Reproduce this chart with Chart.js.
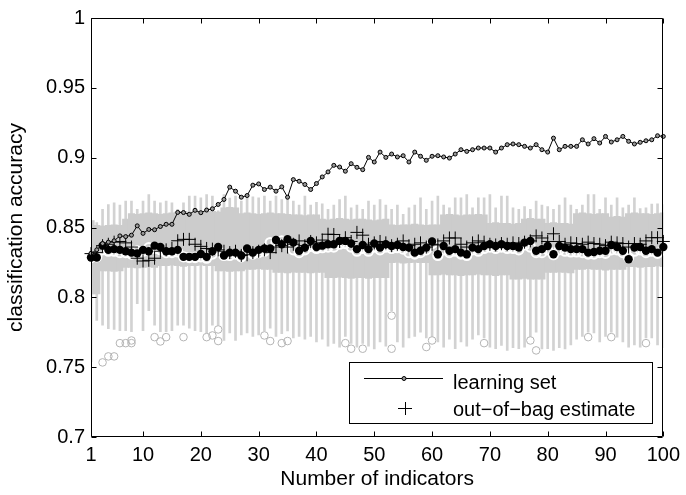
<!DOCTYPE html>
<html>
<head>
<meta charset="utf-8">
<script src="https://cdn.jsdelivr.net/npm/chart.js@4.4.1/dist/chart.umd.min.js"></script>
<style>
  html, body { margin: 0; padding: 0; background: #fff; }
  #wrap { width: 686px; height: 495px; position: relative; }
</style>
</head>
<body>
<div id="wrap"><canvas id="c"></canvas></div>
<script>
// ---------- data ----------
const indicators = Array.from({length: 100}, (_, k) => k + 1);

const learningSet = [0.8315,0.834,0.8385,0.8395,0.8405,0.844,0.8435,0.8445,0.8512,0.8458,
 0.8486,0.8484,0.8507,0.8523,0.8523,0.8608,0.8607,0.8594,0.8623,0.8606,
 0.8625,0.8634,0.8665,0.8701,0.8789,0.8760,0.8717,0.8729,0.8803,0.8812,
 0.8772,0.8789,0.8760,0.8791,0.8717,0.8843,0.8831,0.8808,0.8772,0.8815,
 0.8862,0.8898,0.8945,0.8933,0.8903,0.8957,0.8931,0.8914,0.9002,0.8969,
 0.9040,0.9002,0.9026,0.9005,0.9014,0.8969,0.9040,0.9010,0.8981,0.9010,
 0.9014,0.9005,0.8997,0.9026,0.9057,0.9045,0.9057,0.9069,0.9069,0.9069,
 0.9040,0.9069,0.9093,0.9098,0.9093,0.9081,0.9069,0.9093,0.9057,0.9040,
 0.9140,0.9057,0.9081,0.9081,0.9081,0.9128,0.9098,0.9136,0.9105,0.9152,
 0.9112,0.9128,0.9152,0.9117,0.9098,0.9110,0.9121,0.9128,0.9157,0.9152];

const outOfBag = [0.8313,0.832,0.837,0.838,0.8395,0.840,0.839,0.836,0.828,0.826,
 0.8265,0.828,0.833,0.834,0.835,0.8405,0.8415,0.8415,0.838,0.8365,
 0.835,0.8345,0.834,0.833,0.832,0.833,0.830,0.8305,0.832,0.833,
 0.834,0.832,0.836,0.837,0.836,0.838,0.8404,0.837,0.840,0.839,
 0.841,0.8452,0.845,0.840,0.8427,0.840,0.8465,0.8445,0.838,0.839,
 0.840,0.839,0.837,0.838,0.8404,0.837,0.838,0.839,0.836,0.838,
 0.8375,0.8404,0.8425,0.8425,0.838,0.836,0.839,0.8404,0.8395,0.838,
 0.8375,0.8385,0.838,0.839,0.8385,0.8395,0.8404,0.844,0.8425,0.840,
 0.8455,0.840,0.838,0.839,0.8385,0.838,0.8395,0.8385,0.838,0.837,
 0.8395,0.839,0.8385,0.836,0.8385,0.838,0.8404,0.8427,0.8427,0.840];

const testAccuracy = [0.8285,0.8285,0.837,0.834,0.8345,0.834,0.833,0.832,0.8315,0.834,
 0.833,0.837,0.836,0.833,0.833,0.834,0.829,0.829,0.829,0.831,
 0.829,0.833,0.836,0.830,0.832,0.832,0.830,0.835,0.832,0.834,
 0.835,0.835,0.841,0.838,0.8416,0.8392,0.8333,0.8356,0.8404,0.836,
 0.837,0.838,0.838,0.8404,0.8404,0.8385,0.8345,0.8375,0.8345,0.8385,
 0.8356,0.838,0.8368,0.8375,0.836,0.8356,0.832,0.8333,0.8356,0.840,
 0.8309,0.8368,0.8333,0.8345,0.832,0.8309,0.8356,0.8345,0.8368,0.838,
 0.8368,0.838,0.8368,0.8368,0.8356,0.8392,0.8404,0.8333,0.8345,0.8368,
 0.8309,0.8368,0.8356,0.8345,0.8345,0.8345,0.832,0.8325,0.8333,0.8333,
 0.8375,0.836,0.8333,0.8273,0.8356,0.836,0.8333,0.8345,0.832,0.836];

const boxMedian = [0.8285,0.829,0.834,0.833,0.833,0.832,0.832,0.831,0.8333,0.833,
 0.8356,0.835,0.834,0.832,0.832,0.8325,0.829,0.8285,0.8285,0.829,
 0.828,0.831,0.834,0.830,0.830,0.831,0.829,0.833,0.831,0.832,
 0.833,0.8392,0.8392,0.8404,0.8404,0.834,0.832,0.834,0.8365,0.835,
 0.8355,0.836,0.836,0.838,0.8385,0.836,0.833,0.835,0.833,0.836,
 0.834,0.836,0.835,0.8355,0.8345,0.832,0.831,0.832,0.834,0.8385,
 0.830,0.834,0.832,0.833,0.831,0.830,0.834,0.833,0.835,0.836,
 0.835,0.836,0.835,0.835,0.834,0.8375,0.836,0.832,0.832,0.834,
 0.8305,0.834,0.833,0.8325,0.8325,0.832,0.831,0.831,0.832,0.8315,
 0.834,0.834,0.832,0.8285,0.833,0.834,0.832,0.833,0.8315,0.834];

const boxQ3 = [0.855,0.8515,0.851,0.8515,0.852,0.8515,0.856,0.860,0.8595,0.860,
 0.8605,0.860,0.8595,0.860,0.8605,0.861,0.8615,0.861,0.861,0.8605,
 0.861,0.8615,0.861,0.864,0.8645,0.864,0.860,0.8605,0.860,0.8595,
 0.860,0.8605,0.860,0.860,0.8595,0.859,0.859,0.8585,0.859,0.859,
 0.856,0.8555,0.856,0.8565,0.856,0.8555,0.856,0.856,0.8555,0.855,
 0.8555,0.856,0.852,0.8515,0.852,0.852,0.8525,0.852,0.8515,0.852,
 0.852,0.859,0.8595,0.859,0.8585,0.859,0.859,0.8595,0.859,0.853,
 0.8535,0.853,0.853,0.8525,0.853,0.856,0.8565,0.856,0.856,0.853,
 0.8535,0.853,0.853,0.8525,0.860,0.8605,0.860,0.8595,0.860,0.860,
 0.8575,0.858,0.8575,0.860,0.8605,0.860,0.860,0.8595,0.860,0.8605];

const boxQ1 = [0.8025,0.8025,0.819,0.819,0.8185,0.819,0.8214,0.8214,0.821,0.8214,
 0.8218,0.8214,0.8226,0.8226,0.823,0.8226,0.8222,0.8226,0.8226,0.823,
 0.8226,0.8226,0.819,0.819,0.8185,0.819,0.819,0.820,0.820,0.8205,
 0.820,0.820,0.8178,0.8178,0.8175,0.818,0.8178,0.8178,0.8175,0.8178,
 0.8178,0.814,0.814,0.8145,0.814,0.8135,0.814,0.814,0.8135,0.814,
 0.814,0.814,0.8249,0.825,0.8245,0.8249,0.825,0.8249,0.8249,0.816,
 0.816,0.8165,0.816,0.816,0.8155,0.816,0.816,0.8165,0.816,0.816,
 0.8155,0.816,0.816,0.813,0.813,0.8135,0.813,0.813,0.813,0.8178,
 0.8178,0.818,0.8178,0.8175,0.820,0.820,0.8205,0.820,0.820,0.8195,
 0.820,0.820,0.820,0.822,0.822,0.8215,0.822,0.822,0.8225,0.822];

const whiskerHigh = [0.855,0.8535,0.863,0.8665,0.8677,0.866,0.869,0.869,0.863,0.869,
 0.8736,0.869,0.8677,0.869,0.8677,0.863,0.8677,0.8725,0.8725,0.8713,
 0.8736,0.8725,0.862,0.8736,0.871,0.8725,0.869,0.8725,0.872,0.8713,
 0.8725,0.869,0.8725,0.870,0.8713,0.869,0.866,0.8725,0.866,0.868,
 0.867,0.863,0.866,0.870,0.8725,0.864,0.866,0.863,0.869,0.866,
 0.870,0.866,0.863,0.866,0.8595,0.864,0.866,0.8713,0.863,0.869,
 0.8725,0.866,0.864,0.8713,0.8713,0.8736,0.864,0.8713,0.8713,0.8736,
 0.864,0.8725,0.8725,0.864,0.863,0.865,0.863,0.869,0.866,0.865,
 0.863,0.866,0.8713,0.866,0.863,0.866,0.8736,0.8736,0.863,0.8713,
 0.866,0.8713,0.864,0.866,0.8713,0.8636,0.864,0.8668,0.867,0.8665];

const whiskerLow = [0.754,0.7834,0.780,0.7776,0.777,0.7762,0.7762,0.7755,0.7955,0.7762,
 0.7905,0.780,0.7755,0.7755,0.7762,0.780,0.780,0.778,0.7762,0.7755,
 0.7745,0.780,0.780,0.7691,0.7745,0.7691,0.773,0.7745,0.772,0.773,
 0.776,0.778,0.772,0.774,0.776,0.771,0.772,0.770,0.772,0.768,
 0.770,0.765,0.767,0.7644,0.772,0.767,0.7644,0.767,0.765,0.763,
 0.768,0.765,0.7905,0.768,0.7644,0.771,0.772,0.775,0.771,0.772,
 0.768,0.7644,0.770,0.7632,0.768,0.765,0.770,0.773,0.771,0.7644,
 0.7632,0.7655,0.762,0.764,0.7632,0.7644,0.772,0.775,0.763,0.7632,
 0.762,0.764,0.763,0.766,0.770,0.772,0.775,0.7745,0.768,0.772,
 0.775,0.7715,0.768,0.7644,0.766,0.7644,0.771,0.771,0.766,0.764];

const outlierX = [3,4,5,6,7,8,8,12,13,14,17,21,22,23,23,31,32,34,35,45,46,48,53,53,59,60,69,77,78,87,91,97];
const outlierY = [0.7534,0.7577,0.7577,0.7672,0.7672,0.7672,0.7691,0.7715,0.7684,0.7715,0.7715,0.7715,0.7727,0.7687,0.7770,0.7727,0.7687,0.7672,0.7687,0.7672,0.7632,0.7632,0.7869,0.7632,0.7644,0.7691,0.7672,0.7691,0.7620,0.7715,0.7715,0.7672];

const xTickValues = [1,10,20,30,40,50,60,70,80,90,100];
const xTickLabels = ['1','10','20','30','40','50','60','70','80','90','100'];
const yTickValues = [0.7,0.75,0.8,0.85,0.9,0.95,1];
const yTickLabels = ['0.7','0.75','0.8','0.85','0.9','0.95','1'];

const legendLabels = ['learning set', 'out\u2212of\u2212bag estimate'];
const xTitle = 'Number of indicators';
const yTitle = 'classification accuracy';

// ---------- build ----------
const FONT = '"Liberation Sans", Arial, Helvetica, sans-serif';
const pts = arr => indicators.map((x, k) => ({x, y: arr[k]}));
const rng = (lo, hi) => indicators.map((x, k) => ({x, y: [lo[k], hi[k]]}));

const frameTicks = {
  id: 'frameTicks',
  afterDatasetsDraw(chart) {
    const {ctx, chartArea: a, scales: {x, y}} = chart;
    ctx.save();
    ctx.strokeStyle = '#000';
    ctx.lineWidth = 1;
    const L = Math.round(a.left) + 0.5, R = Math.round(a.right) - 0.5;
    const T = Math.round(a.top) + 0.5, B = Math.round(a.bottom) - 0.5;
    ctx.beginPath();
    ctx.rect(L, T, R - L, B - T);
    const tl = 5;
    xTickValues.forEach(v => {
      const px = Math.round(x.getPixelForValue(v)) + 0.5;
      ctx.moveTo(px, B); ctx.lineTo(px, B - tl);
      ctx.moveTo(px, T); ctx.lineTo(px, T + tl);
    });
    yTickValues.forEach(v => {
      const py = Math.round(y.getPixelForValue(v)) + 0.5;
      ctx.moveTo(L, py); ctx.lineTo(L + tl, py);
      ctx.moveTo(R, py); ctx.lineTo(R - tl, py);
    });
    ctx.stroke();

    // legend
    const lx = 349.5, ly = 362.5, lw = 303, lh = 61;
    ctx.fillStyle = '#fff';
    ctx.fillRect(lx, ly, lw, lh);
    ctx.strokeRect(lx, ly, lw, lh);
    ctx.beginPath();
    ctx.moveTo(364, 378.5); ctx.lineTo(443, 378.5);
    ctx.stroke();
    ctx.beginPath();
    ctx.arc(404, 378.5, 2, 0, Math.PI * 2);
    ctx.fillStyle = '#999';
    ctx.fill(); ctx.stroke();
    ctx.beginPath();
    ctx.moveTo(398, 408.5); ctx.lineTo(412, 408.5);
    ctx.moveTo(405.5, 402); ctx.lineTo(405.5, 415);
    ctx.stroke();
    ctx.fillStyle = '#000';
    ctx.font = '20px ' + FONT;
    ctx.textBaseline = 'alphabetic';
    ctx.textAlign = 'left';
    ctx.fillText(legendLabels[0], 453, 389);
    ctx.fillText(legendLabels[1], 453, 416);
    ctx.restore();
  }
};

new Chart(document.getElementById('c'), {
  type: 'bar',
  data: {
    datasets: [
      { type: 'line', label: legendLabels[0], data: pts(learningSet),
        borderColor: '#000', borderWidth: 1, backgroundColor: '#999',
        pointRadius: 2, pointBorderWidth: 1, pointBorderColor: '#000', pointBackgroundColor: '#999',
        tension: 0, fill: false, order: 1, clip: false },
      { type: 'line', label: legendLabels[1], data: pts(outOfBag), showLine: false,
        pointStyle: 'cross', pointRadius: 6.5, pointBorderWidth: 1, pointBorderColor: '#000',
        order: 2, clip: false },
      { type: 'line', label: 'test', data: pts(testAccuracy), showLine: false,
        pointStyle: 'circle', pointRadius: 4.2, pointBorderWidth: 0, pointBackgroundColor: '#000',
        order: 3, clip: false },
      { type: 'line', label: 'median', data: pts(boxMedian), showLine: false,
        pointStyle: 'circle', pointRadius: 4.6, pointBorderWidth: 2, pointBorderColor: '#fff',
        pointBackgroundColor: 'rgba(0,0,0,0)', order: 4, clip: false },
      { type: 'line', label: 'outliers', data: outlierX.map((x, k) => ({x, y: outlierY[k]})), showLine: false,
        pointStyle: 'circle', pointRadius: 3.8, pointBorderWidth: 1, pointBorderColor: '#b4b4b4',
        pointBackgroundColor: 'rgba(0,0,0,0)', order: 5, clip: false },
      { type: 'bar', label: 'box', data: rng(boxQ1, boxQ3), backgroundColor: '#cccccc',
        borderWidth: 0, barThickness: 6.5, grouped: false, order: 6 },
      { type: 'bar', label: 'whisker', data: rng(whiskerLow, whiskerHigh), backgroundColor: '#d2d2d2',
        borderWidth: 0, barThickness: 2, grouped: false, order: 7 }
    ]
  },
  options: {
    responsive: true,
    maintainAspectRatio: false,
    animation: false,
    events: [],
    layout: { padding: { left: 0, right: 22, top: 16, bottom: 0 } },
    plugins: { legend: { display: false }, tooltip: { enabled: false } },
    scales: {
      x: {
        type: 'linear', min: 1, max: 100, offset: false,
        grid: { display: false, drawTicks: false }, border: { display: false },
        afterBuildTicks: s => { s.ticks = xTickValues.map(v => ({value: v})); },
        afterFit: s => { s.height = 58; },
        ticks: { autoSkip: false, maxRotation: 0, padding: 6, color: '#000',
          font: { family: FONT, size: 20 },
          callback: (v, i) => xTickLabels[i] },
        title: { display: true, text: xTitle, color: '#000', font: { family: FONT, size: 21 },
          padding: { top: 0, bottom: 3 } }
      },
      y: {
        type: 'linear', min: 0.7, max: 1,
        grid: { display: false, drawTicks: false }, border: { display: false },
        afterBuildTicks: s => { s.ticks = yTickValues.map(v => ({value: v})); },
        afterFit: s => { s.width = 91; },
        ticks: { autoSkip: false, padding: 6, color: '#000',
          font: { family: FONT, size: 20 },
          callback: (v, i) => yTickLabels[i] },
        title: { display: true, text: yTitle, color: '#000', font: { family: FONT, size: 21 },
          padding: { top: 4, bottom: 0 } }
      }
    }
  },
  plugins: [frameTicks]
});
</script>
</body>
</html>
